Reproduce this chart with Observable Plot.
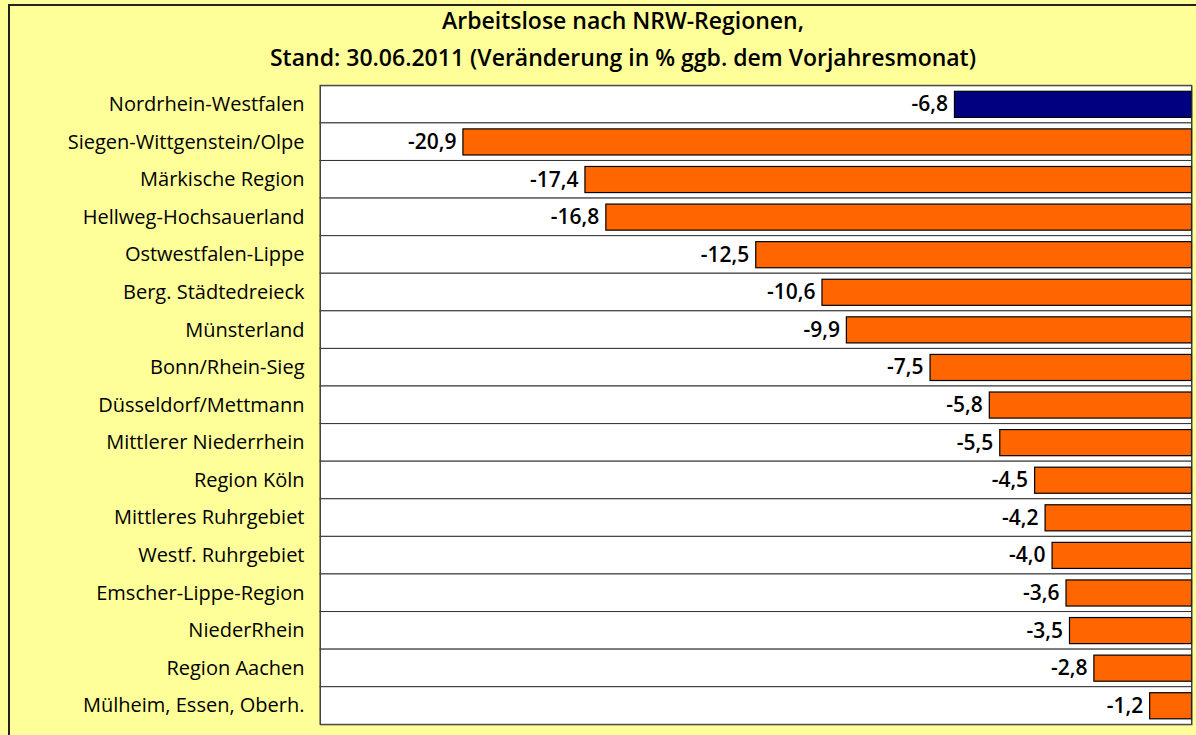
<!DOCTYPE html>
<html>
<head>
<meta charset="utf-8">
<script src="https://cdn.jsdelivr.net/npm/d3@7"></script>
<script src="https://cdn.jsdelivr.net/npm/@observablehq/plot@0.6"></script>
<style>
  html, body { margin: 0; padding: 0; background: #FFFF99; overflow: hidden; width: 1196px; height: 735px; }
  #frame {
    position: absolute; left: 8px; top: 4px; width: 1200px; height: 740px;
    border-left: 2px solid #222; border-top: 2px solid #222; box-sizing: border-box;
  }
  .tl {
    position: absolute; left: 0; width: 1246px; text-align: center;
    font-family: "Open Sans", sans-serif; font-size: 23px; font-weight: 600; color: #000;
    height: 32px; line-height: 32px;
  }
  #chart { position: absolute; left: 10px; top: 80px; }
  #chart svg { display: block; }
</style>
</head>
<body>
<div id="frame"></div>
<div class="tl" style="top:4px">Arbeitslose nach NRW-Regionen,</div>
<div class="tl" style="top:41px">Stand: 30.06.2011 (Veränderung in % ggb. dem Vorjahresmonat)</div>
<div id="chart"></div>
<script>
const regions = [
  "Nordrhein-Westfalen",
  "Siegen-Wittgenstein/Olpe",
  "Märkische Region",
  "Hellweg-Hochsauerland",
  "Ostwestfalen-Lippe",
  "Berg. Städtedreieck",
  "Münsterland",
  "Bonn/Rhein-Sieg",
  "Düsseldorf/Mettmann",
  "Mittlerer Niederrhein",
  "Region Köln",
  "Mittleres Ruhrgebiet",
  "Westf. Ruhrgebiet",
  "Emscher-Lippe-Region",
  "NiederRhein",
  "Region Aachen",
  "Mülheim, Essen, Oberh."
];
const changes = [-6.8, -20.9, -17.4, -16.8, -12.5, -10.6, -9.9, -7.5, -5.8, -5.5, -4.5, -4.2, -4.0, -3.6, -3.5, -2.8, -1.2];
const groups = ["NRW", "Region", "Region", "Region", "Region", "Region", "Region", "Region", "Region", "Region", "Region", "Region", "Region", "Region", "Region", "Region", "Region"];

const data = regions.map((r, i) => ({region: r, value: changes[i], group: groups[i]}));
const fmt = v => v.toFixed(1).replace(".", ",");

const chart = Plot.plot({
  width: 1186,
  height: 655,
  marginLeft: 310,
  marginRight: 4.5,
  marginTop: 5.3,
  marginBottom: 10.7,
  style: {fontFamily: "'Open Sans', sans-serif", fontSize: "20px", background: "transparent", color: "#000"},
  x: {domain: [-25, 0], axis: null},
  y: {domain: regions, padding: 0, round: false, label: null, tickSize: 0, tickPadding: 16},
  color: {domain: ["NRW", "Region"], range: ["#000080", "#FF6600"]},
  marks: [
    Plot.cell(data, {y: "region", fill: "white", stroke: "#333", strokeWidth: 1}),
    Plot.barX(data, {y: "region", x: "value", fill: "group", stroke: "#000", strokeWidth: 1.2, insetTop: 6, insetBottom: 5.5}),
    Plot.text(data, {y: "region", x: "value", text: d => fmt(d.value), textAnchor: "end", dx: -7, fontSize: 21, fontWeight: 600, fill: "#000"}),
    Plot.frame({stroke: "#444"})
  ]
});
document.getElementById("chart").appendChild(chart);
</script>
</body>
</html>
